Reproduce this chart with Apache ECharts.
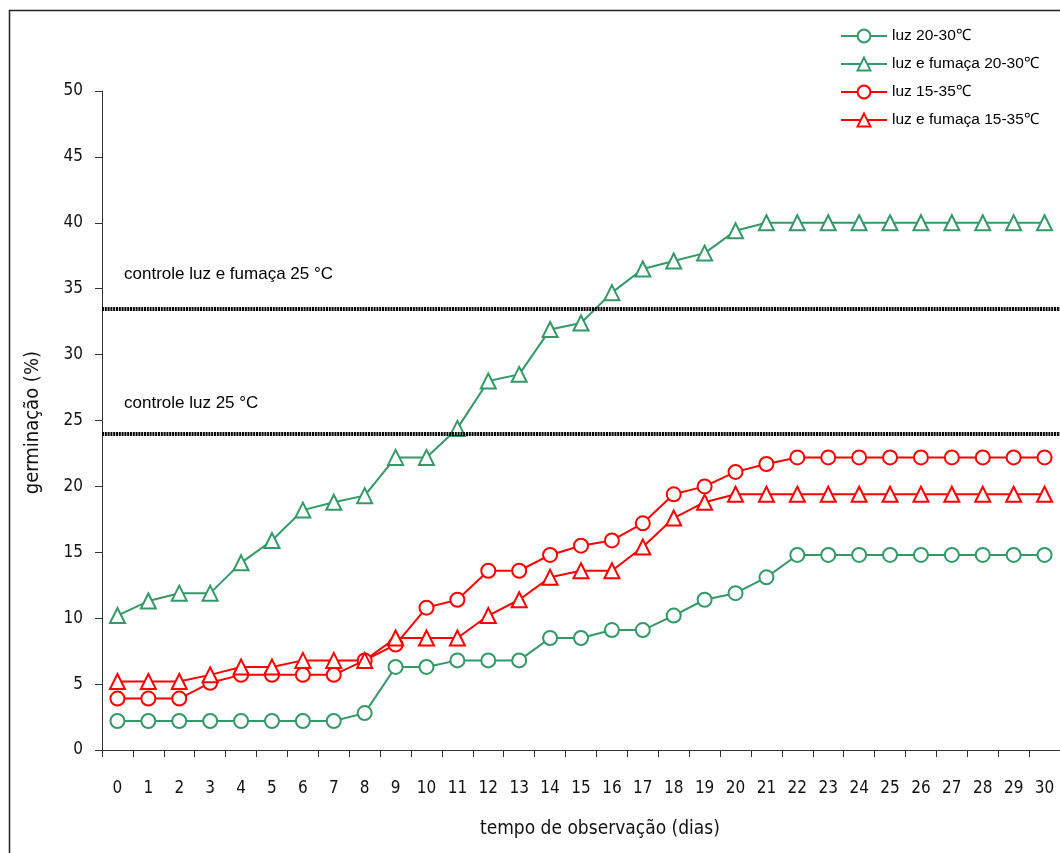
<!DOCTYPE html>
<html>
<head>
<meta charset="utf-8">
<script src="https://cdn.jsdelivr.net/npm/echarts@6/dist/echarts.min.js"></script>
<style>
  html, body { margin: 0; padding: 0; background: #fff; }
  #chart { width: 1060px; height: 853px; }
</style>
</head>
<body>
<div id="chart"></div>
<script>
// Observation days (category axis)
const dias = ['0','1','2','3','4','5','6','7','8','9','10','11','12','13','14','15',
  '16','17','18','19','20','21','22','23','24','25','26','27','28','29','30'];

// Cumulative germination (%) per treatment
const luz2030 = [2.2,2.2,2.2,2.2,2.2,2.2,2.2,2.2,2.8,6.3,6.3,6.8,6.8,6.8,8.5,8.5,
  9.1,9.1,10.2,11.4,11.9,13.1,14.8,14.8,14.8,14.8,14.8,14.8,14.8,14.8,14.8];
const fumaca2030 = [10.2,11.3,11.9,11.9,14.2,15.9,18.2,18.8,19.3,22.2,22.2,24.4,28.0,28.5,31.9,32.4,
  34.7,36.5,37.1,37.7,39.4,40,40,40,40,40,40,40,40,40,40];
const luz1535 = [3.9,3.9,3.9,5.1,5.7,5.7,5.7,5.7,6.8,8.0,10.8,11.4,13.6,13.6,14.8,15.5,
  15.9,17.2,19.4,20.0,21.1,21.7,22.2,22.2,22.2,22.2,22.2,22.2,22.2,22.2,22.2];
const fumaca1535 = [5.2,5.2,5.2,5.7,6.3,6.3,6.8,6.8,6.8,8.5,8.5,8.5,10.2,11.4,13.1,13.6,
  13.6,15.4,17.6,18.8,19.4,19.4,19.4,19.4,19.4,19.4,19.4,19.4,19.4,19.4,19.4];

// Control references at 25 °C
const controleFumaca = 33.5;
const controleLuz = 24.0;

const nomes = ['luz 20-30\u2103', 'luz e fumaça 20-30\u2103', 'luz 15-35\u2103', 'luz e fumaça 15-35\u2103'];

const VERDE = '#339966';
const VERMELHO = '#ff0000';
const NARROW = '"Liberation Sans Narrow", "DejaVu Sans Condensed", "Liberation Sans", sans-serif';
const SANS = '"Liberation Sans", Arial, sans-serif';

function serie(nome, dados, cor, simbolo) {
  return {
    name: nome,
    type: 'line',
    data: dados,
    symbol: simbolo,
    symbolSize: simbolo === 'triangle' ? 15 : 14,
    showAllSymbol: true,
    lineStyle: { color: cor, width: 2 },
    itemStyle: { color: '#fff', borderColor: cor, borderWidth: 2 },
    emphasis: { disabled: true },
    animation: false
  };
}

const chart = echarts.init(document.getElementById('chart'), null, { renderer: 'canvas' });

const refLinha = {
  silent: true,
  animation: false,
  symbol: ['none', 'none'],
  lineStyle: { color: '#000', width: 4, type: [2, 0.8] },
  label: {
    show: true,
    position: 'insideStartTop',
    color: '#000',
    fontFamily: SANS,
    fontSize: 17
  },
  data: [
    { yAxis: controleFumaca, label: { formatter: 'controle luz e fumaça 25 °C', distance: [22, 26] } },
    { yAxis: controleLuz, label: { formatter: 'controle luz 25 °C', distance: [22, 22] } }
  ]
};

const series = [
  serie(nomes[0], luz2030, VERDE, 'circle'),
  serie(nomes[1], fumaca2030, VERDE, 'triangle'),
  serie(nomes[2], luz1535, VERMELHO, 'circle'),
  serie(nomes[3], fumaca1535, VERMELHO, 'triangle')
];
series[0].markLine = refLinha;

chart.setOption({
  backgroundColor: '#fff',
  animation: false,
  grid: { left: 102, top: 91, right: -13, bottom: 103, containLabel: false },
  legend: {
    orient: 'vertical',
    left: 835,
    top: 23,
    itemWidth: 46,
    itemHeight: 16,
    itemGap: 12,
    textStyle: { fontFamily: SANS, fontSize: 15.5, color: '#000' },
    data: nomes
  },
  xAxis: {
    type: 'category',
    data: dias,
    boundaryGap: true,
    axisLine: { lineStyle: { color: '#333', width: 1 } },
    axisTick: { show: true, length: 7, interval: 0, lineStyle: { color: '#333' } },
    axisLabel: { interval: 0, margin: 30, fontFamily: NARROW, fontSize: 17, color: '#111' },
    splitLine: { show: false }
  },
  yAxis: {
    type: 'value',
    min: 0,
    max: 50,
    interval: 5,
    axisLine: { show: true, lineStyle: { color: '#333', width: 1 } },
    axisTick: { show: true, length: 7, lineStyle: { color: '#333' } },
    axisLabel: { margin: 19, fontFamily: NARROW, fontSize: 17, color: '#111' },
    splitLine: { show: false }
  },
  graphic: [
    {
      type: 'rect',
      shape: { x: 9.5, y: 10.5, width: 1200, height: 1000 },
      style: { fill: 'none', stroke: '#222', lineWidth: 1.5 },
      silent: true
    },
    {
      type: 'text',
      left: 480,
      top: 820,
      style: { text: 'tempo de observação (dias)', font: '19px ' + NARROW, fill: '#111' }
    },
    {
      type: 'text',
      left: 23,
      top: 351,
      rotation: Math.PI / 2,
      style: { text: 'germinação (%)', font: '20px ' + NARROW, fill: '#111' }
    }
  ],
  series: series
});
</script>
</body>
</html>
